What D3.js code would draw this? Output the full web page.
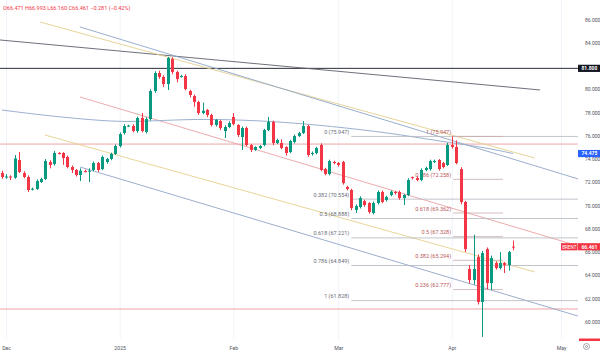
<!DOCTYPE html>
<html>
<head>
<meta charset="utf-8">
<script src="https://cdn.jsdelivr.net/npm/d3@7"></script>
<style>
    body { margin: 0; background: #fff; }
    svg { display: block; font-family: Roboto, "Noto Sans", sans-serif; }
</style>
</head>
<body>
<svg id="chart"></svg>
<script>
// daily bars
const opens = [72.80, 72.46, 72.50, 72.40, 73.92, 72.80, 72.46, 71.40, 71.43, 72.03,
    72.29, 73.75, 73.57, 74.52, 74.52, 74.18, 73.32, 73.06, 72.63, 72.97,
    72.95, 73.06, 73.66, 73.14, 73.75, 74.01, 74.44, 75.12, 76.24, 76.84,
    76.84, 76.41, 77.53, 76.33, 77.44, 79.85, 81.40, 81.06, 80.45, 82.60,
    81.49, 81.10, 81.14, 79.85, 79.42, 78.91, 77.96, 78.22, 77.79, 76.93,
    77.27, 76.41, 76.76, 77.62, 76.93, 75.90, 76.67, 75.21, 74.78, 74.95,
    75.21, 76.50, 77.19, 75.38, 75.38, 75.04, 74.61, 75.47, 75.98, 76.24,
    76.84, 74.44, 74.52, 75.21, 73.14, 72.72, 73.75, 73.66, 73.75, 71.60,
    71.34, 69.62, 69.88, 70.39, 70.22, 69.36, 70.22, 71.17, 70.48, 70.90,
    71.17, 71.17, 70.65, 70.91, 72.45, 72.37, 72.20, 73.06, 73.14, 73.75,
    73.92, 73.66, 73.49, 75.21, 75.04, 73.14, 70.31, 64.55, 63.60, 65.57,
    61.71, 66.26, 63.34, 65.06, 64.63, 65.06, 64.89, 66.471];
const highs = [73.00, 72.70, 72.60, 74.35, 74.61, 72.95, 72.60, 71.55, 72.25, 72.40,
    74.00, 73.90, 74.70, 74.60, 74.60, 74.30, 73.45, 73.15, 73.20, 73.10,
    73.20, 73.80, 73.75, 74.30, 74.10, 74.55, 75.25, 76.30, 77.00, 76.95,
    77.00, 77.65, 77.96, 77.60, 80.00, 81.55, 81.60, 81.20, 82.78, 82.75,
    81.60, 81.25, 81.30, 79.95, 79.55, 79.00, 78.85, 78.30, 77.90, 77.45,
    77.35, 76.90, 77.25, 77.96, 77.00, 76.80, 76.80, 75.30, 75.10, 75.20,
    76.60, 77.62, 77.30, 75.75, 75.70, 75.10, 75.65, 76.10, 76.35, 77.27,
    76.95, 74.65, 75.05, 75.35, 73.25, 73.95, 73.85, 73.75, 73.85, 71.70,
    71.45, 70.10, 70.80, 70.50, 70.30, 70.35, 71.30, 71.30, 70.85, 71.30,
    71.25, 71.30, 71.00, 72.35, 72.50, 72.50, 73.20, 73.35, 73.95, 73.95,
    74.00, 73.75, 75.40, 75.947, 75.60, 73.30, 70.40, 64.90, 67.50, 65.80,
    66.10, 66.40, 65.70, 65.20, 66.00, 65.15, 66.10, 66.993];
const lows = [72.30, 72.30, 72.20, 72.30, 72.80, 72.35, 71.17, 71.30, 71.35, 71.95,
    72.20, 73.20, 73.45, 74.40, 73.50, 73.20, 72.80, 72.50, 72.11, 72.85,
    72.03, 72.95, 72.90, 73.05, 73.60, 73.90, 74.35, 75.00, 76.10, 76.75,
    76.30, 76.25, 76.30, 76.20, 77.30, 79.70, 80.90, 80.20, 79.94, 81.30,
    80.60, 81.00, 79.90, 79.30, 78.50, 77.80, 77.85, 77.60, 76.80, 76.80,
    76.50, 75.81, 76.65, 76.90, 75.90, 74.78, 75.10, 74.60, 74.70, 74.85,
    75.10, 76.40, 75.20, 75.30, 74.85, 74.30, 74.50, 75.35, 75.90, 76.15,
    74.20, 74.30, 74.40, 72.95, 72.60, 72.60, 73.55, 73.35, 71.80, 71.30,
    69.60, 69.36, 69.75, 69.90, 69.30, 69.25, 70.10, 70.20, 70.35, 70.80,
    70.95, 70.50, 70.05, 70.80, 72.25, 72.10, 72.10, 72.95, 73.00, 73.65,
    73.00, 73.20, 73.40, 74.90, 73.55, 70.10, 66.00, 63.30, 63.20, 61.50,
    58.709, 62.80, 62.75, 64.50, 64.50, 64.20, 64.40, 66.160];
const closes = [72.46, 72.50, 72.42, 74.05, 72.89, 72.46, 71.34, 71.45, 72.11, 72.29,
    73.83, 73.49, 74.52, 74.50, 74.09, 73.32, 73.06, 72.63, 73.00, 72.95,
    73.00, 73.66, 73.06, 74.18, 74.01, 74.44, 75.12, 76.15, 76.84, 76.88,
    76.41, 77.53, 76.41, 77.44, 79.85, 81.40, 81.06, 80.45, 82.69, 81.49,
    80.88, 81.14, 80.02, 79.51, 78.91, 77.96, 78.15, 77.79, 76.93, 77.36,
    76.67, 76.76, 77.10, 77.01, 76.07, 76.67, 75.21, 74.78, 75.04, 75.12,
    76.50, 77.19, 75.38, 75.64, 74.95, 74.52, 75.55, 75.98, 76.24, 76.84,
    74.35, 74.52, 74.95, 73.06, 72.72, 73.83, 73.66, 73.49, 71.94, 71.43,
    69.79, 69.96, 70.65, 70.05, 69.45, 70.22, 71.17, 70.31, 70.74, 71.20,
    71.08, 70.65, 70.91, 72.20, 72.37, 72.20, 73.06, 73.23, 73.83, 73.83,
    73.14, 73.32, 75.21, 75.04, 73.66, 70.31, 66.26, 63.60, 64.55, 61.71,
    65.92, 63.34, 65.49, 64.63, 65.06, 64.89, 66.00, 66.461];

// time axis
const monthLabels = ["Dec", "2025", "Feb", "Mar", "Apr", "May"];
const monthBars = [1, 27, 53, 77, 103, 128];

// price axis
const priceTicks = [60, 62, 64, 66, 68, 70, 72, 74, 76, 78, 80, 82, 84, 86];

// legend of the last bar
const legendText = "O66.471 H66.993 L66.160 C66.461 \u22120.281 (\u22120.42%)";

// drawings: [bar, price] -> [bar, price]
const darkTrend = [[-0.4, 84.24], [123.2, 79.94]];
const upperYellow = [[8.8, 85.78], [122, 74.09]];
const upperBlue = [[17.9, 85.36], [131.9, 72.29]];
const pinkTrend = [[17.9, 79.34], [131.9, 66.53]];
const lowerYellow = [[9.9, 76.07], [122, 64.29]];
const lowerBlue = [[17.9, 73.32], [131.9, 60.50]];

const blackLevel = 81.8;
const pinkLevels = [75.29, 61.11];

// blue average line
const maBars = [0, 9, 18, 27, 34, 45, 55, 64, 75, 89, 100, 110, 117];
const maValues = [78.22, 77.79, 77.45, 77.19, 77.27, 77.45, 77.36, 77.19, 76.84, 76.24, 75.55, 75.04, 74.475];

// fibonacci retracements
const leftFibLevels = ["0", "0.382", "0.5", "0.618", "0.786", "1"];
const leftFibValues = [75.947, 70.554, 68.888, 67.221, 64.849, 61.828];
const leftFibStart = 80;
const rightFibLevels = ["1", "0.786", "0.618", "0.5", "0.382", "0.236"];
const rightFibValues = [75.947, 72.258, 69.362, 67.328, 65.294, 62.777];
const rightFibBars = [103.3, 114.7];

const symbolName = "BRENT";

class CandleChart {

    constructor(config) {
        this.config = config;
        this.init();
    }

    init() {
        let self = this;

        self.svg = d3.select(self.config.parent)
            .attr('width', self.config.width)
            .attr('height', self.config.height);

        self.plotRight = self.config.width - self.config.axisWidth;
        self.plotBottom = self.config.height - self.config.timeHeight;

        self.bars = opens.map((o, i) => ({i: i, o: o, h: highs[i], l: lows[i], c: closes[i]}));

        // bar index -> x
        self.xScale = d3.scaleLinear()
            .domain([0, self.bars.length - 1])
            .range([1.7, 513]);

        self.yScale = d3.scaleLinear()
            .domain([60, 86])
            .range([321.9, 19.5]);

        self.svg.append("rect")
            .attr("width", self.config.width)
            .attr("height", self.config.height)
            .attr("fill", "#ffffff");

        self.svg.append("clipPath")
            .attr("id", "plot-clip")
            .append("rect")
            .attr("width", self.plotRight)
            .attr("height", self.plotBottom);

        self.plot = self.svg.append("g").attr("clip-path", "url(#plot-clip)");
    }

    render() {
        let self = this;
        let x = self.xScale, y = self.yScale;
        let last = self.bars[self.bars.length - 1];
        let boxValues = [blackLevel, maValues[maValues.length - 1], last.c];

        // grid
        self.plot.append("g")
            .call(d3.axisLeft(y).tickValues(priceTicks).tickSize(-self.plotRight).tickFormat(""))
            .call(g => g.select(".domain").remove())
            .selectAll("line").attr("stroke", "#f0f3fa").attr("transform", `translate(${self.plotRight},0)`);

        self.plot.append("g")
            .attr("transform", `translate(0,${self.plotBottom})`)
            .call(d3.axisBottom(x).tickValues(monthBars).tickSize(-self.plotBottom).tickFormat(""))
            .call(g => g.select(".domain").remove())
            .selectAll("line").attr("stroke", "#f0f3fa");

        // horizontal levels
        let hline = (v, color, w) => self.plot.append("line")
            .attr("x1", 0).attr("x2", self.plotRight)
            .attr("y1", y(v)).attr("y2", y(v))
            .attr("stroke", color).attr("stroke-width", w);

        pinkLevels.forEach(v => hline(v, "#eea3a6", 1));
        hline(blackLevel, "#2a2e39", 1);

        // trend lines
        let tline = (pts, color) => self.plot.append("line")
            .attr("x1", x(pts[0][0])).attr("y1", y(pts[0][1]))
            .attr("x2", x(pts[1][0])).attr("y2", y(pts[1][1]))
            .attr("stroke", color).attr("stroke-width", 0.9);

        tline(darkTrend, "#5d606b");
        tline(upperYellow, "#e3cf8d");
        tline(upperBlue, "#8ea5c7");
        tline(pinkTrend, "#eaa2a2");
        tline(lowerYellow, "#e6d08c");
        tline(lowerBlue, "#8ea5c7");

        // moving average
        self.plot.append("path")
            .datum(maBars.map((b, i) => [b, maValues[i]]))
            .attr("fill", "none")
            .attr("stroke", "#9bb0cf")
            .attr("stroke-width", 1)
            .attr("d", d3.line().x(d => x(d[0])).y(d => y(d[1])).curve(d3.curveBasis));

        // fib (left, extended right)
        let fib = self.plot.append("g");
        leftFibValues.forEach((v, i) => {
            fib.append("line")
                .attr("x1", x(leftFibStart)).attr("x2", self.plotRight)
                .attr("y1", y(v)).attr("y2", y(v))
                .attr("stroke", "#b2b5be").attr("stroke-width", 0.8);
            fib.append("text")
                .attr("x", x(leftFibStart) - 2).attr("y", y(v) - 2.5)
                .attr("text-anchor", "end")
                .attr("font-size", "5.5px")
                .attr("fill", "#6a6d78")
                .text(`${leftFibLevels[i]} (${v.toFixed(3)})`);
        });

        // fib (right)
        rightFibValues.forEach((v, i) => {
            fib.append("line")
                .attr("x1", x(rightFibBars[0])).attr("x2", x(rightFibBars[1]))
                .attr("y1", y(v)).attr("y2", y(v))
                .attr("stroke", "#c9a9ab").attr("stroke-width", 0.8);
            fib.append("text")
                .attr("x", x(rightFibBars[0]) - 2).attr("y", y(v) - 2.5)
                .attr("text-anchor", "end")
                .attr("font-size", "5.5px")
                .attr("fill", "#b8575b")
                .text(`${rightFibLevels[i]} (${v.toFixed(3)})`);
        });

        // candles
        let candle = self.plot.selectAll(".candle")
            .data(self.bars)
            .join("g")
            .attr("class", "candle")
            .attr("fill", d => d.c >= d.o ? "#089981" : "#f23645")
            .attr("stroke", d => d.c >= d.o ? "#089981" : "#f23645");

        candle.append("line")
            .attr("x1", d => Math.round(x(d.i)) + 0.5)
            .attr("x2", d => Math.round(x(d.i)) + 0.5)
            .attr("y1", d => y(d.h))
            .attr("y2", d => y(d.l))
            .attr("stroke-width", 1);

        candle.append("rect")
            .attr("stroke", "none")
            .attr("x", d => Math.round(x(d.i)) - 1)
            .attr("width", 3)
            .attr("y", d => y(Math.max(d.o, d.c)))
            .attr("height", d => Math.max(1, Math.abs(y(d.o) - y(d.c))));

        // price axis, labels hidden under a price box are dropped
        let shownTicks = priceTicks.filter(t => boxValues.every(b => Math.abs(y(t) - y(b)) > 4.5));
        self.svg.append("g")
            .attr("transform", `translate(${self.plotRight + 4},0)`)
            .call(d3.axisRight(y).tickValues(shownTicks).tickSize(0).tickFormat(d3.format(".3f")))
            .call(g => g.select(".domain").remove())
            .selectAll("text")
            .attr("font-size", "5px")
            .attr("font-family", "Roboto, sans-serif")
            .attr("fill", "#50535e");

        // time axis
        self.svg.append("g")
            .attr("transform", `translate(0,${self.plotBottom + 4})`)
            .call(d3.axisBottom(x).tickValues(monthBars).tickSize(0).tickFormat((d, i) => monthLabels[i]))
            .call(g => g.select(".domain").remove())
            .selectAll("text")
            .attr("font-size", "5.2px")
            .attr("font-family", "Roboto, sans-serif")
            .attr("fill", "#50535e");

        // axis price boxes
        let box = (v, bg, label) => {
            let g = self.svg.append("g").attr("transform", `translate(${self.plotRight},${y(v)})`);
            g.append("rect").attr("x", 0).attr("y", -3.6).attr("width", 22).attr("height", 7.2).attr("fill", bg);
            g.append("text").attr("x", 3.5).attr("y", 1.8).attr("font-size", "5px")
                .attr("font-weight", "bold").attr("fill", "#fff").text(label);
            return g;
        };
        box(boxValues[0], "#131722", boxValues[0].toFixed(3));
        box(boxValues[1], "#2962ff", boxValues[1].toFixed(3));
        let lastBox = box(boxValues[2], "#f23645", boxValues[2].toFixed(3));
        lastBox.append("rect").attr("x", -17).attr("y", -3.6).attr("width", 16.5).attr("height", 7.2).attr("fill", "#f23645");
        lastBox.append("text").attr("x", -8.7).attr("y", 1.8).attr("text-anchor", "middle")
            .attr("font-size", "4.6px").attr("fill", "#fff").text(symbolName);

        // cut-off label at the bottom of the scale
        self.svg.append("rect")
            .attr("x", self.plotRight + 1).attr("y", self.plotBottom - 0.5)
            .attr("width", 21).attr("height", 2.5).attr("fill", "#f23645");

        // settings icon
        self.svg.append("circle")
            .attr("cx", 586.5).attr("cy", 346.5).attr("r", 3)
            .attr("fill", "none").attr("stroke", "#6a6d78").attr("stroke-width", 0.6);
        self.svg.append("circle")
            .attr("cx", 586.5).attr("cy", 346.5).attr("r", 1)
            .attr("fill", "none").attr("stroke", "#6a6d78").attr("stroke-width", 0.6);

        // legend
        self.svg.append("text")
            .attr("x", 3).attr("y", 9.5)
            .attr("font-size", "5.5px")
            .attr("fill", "#f23645")
            .text(legendText);
    }
}

let chart = new CandleChart({
    parent: "#chart",
    width: 600,
    height: 352,
    axisWidth: 22,
    timeHeight: 13
});
chart.render();
</script>
</body>
</html>
